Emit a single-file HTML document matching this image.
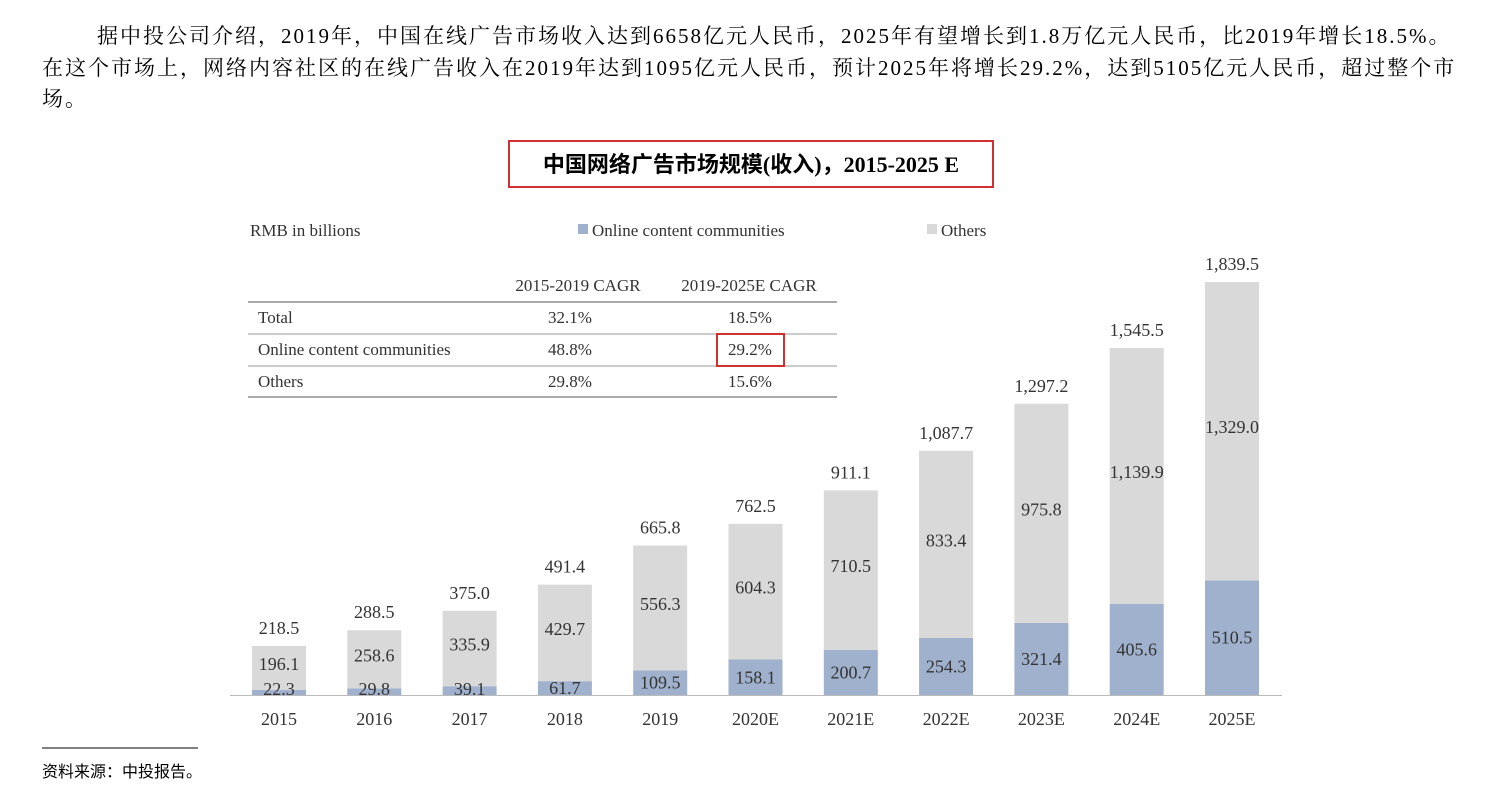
<!DOCTYPE html>
<html><head><meta charset="utf-8">
<style>
body{margin:0;width:1486px;height:798px;background:#fff;overflow:hidden;font-family:"Liberation Serif","Noto Serif CJK SC",serif;}
.p{position:absolute;left:42px;font-size:21px;letter-spacing:2px;color:#000;white-space:nowrap;}
#title{position:absolute;left:508px;top:140px;width:486px;height:48px;border:2px solid #d03030;box-sizing:border-box;font-weight:bold;font-size:22px;text-align:center;line-height:46px;font-family:"Liberation Serif","Noto Sans CJK SC",serif;}
svg text{font-family:"Liberation Serif",serif;fill:#333;}
</style></head><body>
<div class="p" style="top:20px;left:97px">据中投公司介绍，2019年，中国在线广告市场收入达到6658亿元人民币，2025年有望增长到1.8万亿元人民币，比2019年增长18.5%。</div>
<div class="p" style="top:52px">在这个市场上，网络内容社区的在线广告收入在2019年达到1095亿元人民币，预计2025年将增长29.2%，达到5105亿元人民币，超过整个市</div>
<div class="p" style="top:83px">场。</div>
<div id="title">中国网络广告市场规模(收入)，2015-2025 E</div>
<svg id="chart" width="1486" height="798" style="position:absolute;left:0;top:0">
<text x="250" y="236" font-size="17">RMB in billions</text>
<rect x="578" y="224" width="10" height="10" fill="#9fb1cc"/>
<text x="592" y="236" font-size="17">Online content communities</text>
<rect x="927" y="224" width="10" height="10" fill="#d9d9d9"/>
<text x="941" y="236" font-size="17">Others</text>
<g font-size="17">
<text x="578" y="291" text-anchor="middle">2015-2019 CAGR</text>
<text x="749" y="291" text-anchor="middle">2019-2025E CAGR</text>
<line x1="248" x2="837" y1="302" y2="302" stroke="#555"/>
<text x="258" y="323">Total</text><text x="570" y="323" text-anchor="middle">32.1%</text><text x="750" y="323" text-anchor="middle">18.5%</text>
<line x1="248" x2="837" y1="334" y2="334" stroke="#999"/>
<text x="258" y="355">Online content communities</text><text x="570" y="355" text-anchor="middle">48.8%</text><text x="750" y="355" text-anchor="middle">29.2%</text>
<line x1="248" x2="837" y1="366" y2="366" stroke="#999"/>
<text x="258" y="387">Others</text><text x="570" y="387" text-anchor="middle">29.8%</text><text x="750" y="387" text-anchor="middle">15.6%</text>
<line x1="248" x2="837" y1="397" y2="397" stroke="#555"/>
<rect x="717" y="334" width="67" height="32" fill="none" stroke="#d03030" stroke-width="2"/>
</g>
<g id="bars"></g>
<line x1="230" x2="1282" y1="695.5" y2="695.5" stroke="#bbb"/>
<line x1="42" x2="198" y1="748" y2="748" stroke="#000"/>
</svg>
<div class="p" style="top:758px;font-size:16px;letter-spacing:0;font-family:'Liberation Sans','Noto Sans CJK SC',sans-serif">资料来源：中投报告。</div>
<script>
const years=["2015","2016","2017","2018","2019","2020E","2021E","2022E","2023E","2024E","2025E"];
const online=[22.3,29.8,39.1,61.7,109.5,158.1,200.7,254.3,321.4,405.6,510.5];
const others=[196.1,258.6,335.9,429.7,556.3,604.3,710.5,833.4,975.8,1139.9,1329.0];
const totals=["218.5","288.5","375.0","491.4","665.8","762.5","911.1","1,087.7","1,297.2","1,545.5","1,839.5"];
const base=695,scale=413/1839.5,x0=279,step=95.3,bw=54;
const yS=v=>base-v*scale, xS=i=>x0+i*step;
const g=document.getElementById('bars');const NS="http://www.w3.org/2000/svg";
function mk(t,a){const e=document.createElementNS(NS,t);for(const k in a)e.setAttribute(k,a[k]);g.appendChild(e);return e;}
function fmt(v){return v>=1000?v.toLocaleString('en-US',{minimumFractionDigits:1}):v.toFixed(1);}
years.forEach((y,i)=>{
 const cx=xS(i),t1=yS(online[i]),t2=yS(online[i]+others[i]);
 const b1=mk('rect',{x:cx-bw/2,y:t1,width:bw,height:base-t1,fill:'#9fb1cc'});
 
 
 const b2=mk('rect',{x:cx-bw/2,y:t2,width:bw,height:t1-t2,fill:'#d9d9d9'});
 
 
 const l1=mk('text',{x:cx,y:Math.min((t1+base)/2,689)+6,'text-anchor':'middle','font-size':18});l1.textContent=fmt(online[i]);
 
 
 const l2=mk('text',{x:cx,y:Math.min((t1+t2)/2-4,t1-26)+6,'text-anchor':'middle','font-size':18});l2.textContent=fmt(others[i]);
 
 
 const l3=mk('text',{x:cx,y:t2-12,'text-anchor':'middle','font-size':18});l3.textContent=totals[i];
 
 
 const xl=mk('text',{x:cx,y:725,'text-anchor':'middle','font-size':18});xl.textContent=y;
 
 
});
</script>
</body></html>
